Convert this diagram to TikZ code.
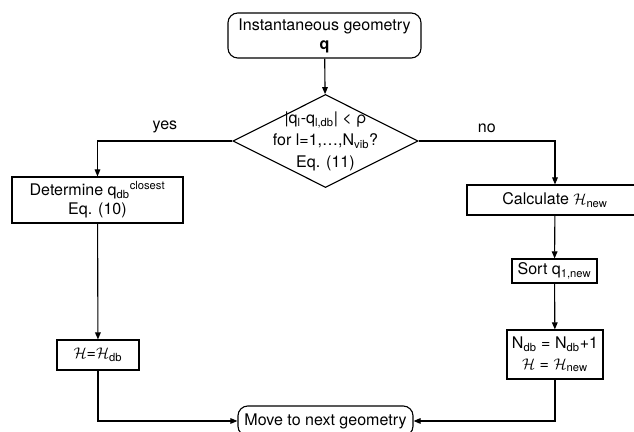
\documentclass[tikz,border=0pt]{standalone}
\usepackage{fontspec}
\setmainfont{TeX Gyre Heros}
\usepackage{amsmath}
\usetikzlibrary{shapes.geometric,arrows.meta}

\begin{document}
\begin{tikzpicture}[x=0.025cm,y=-0.025cm,
    font=\fontsize{11.4}{13.6}\selectfont,
    box/.style={draw,line width=0.8pt,align=center,inner sep=0pt},
    roundbox/.style={box,rounded corners=7pt},
    decision/.style={draw,line width=0.8pt,diamond,inner sep=0pt},
    arr/.style={line width=0.8pt,-{Triangle[length=5pt,width=4pt]}}]
    % Fix the page size
    \useasboundingbox (0,0) rectangle (634,432);

    % Start
    \node[roundbox,minimum width=4.825cm,minimum height=1.125cm] (start) at (324.5,35.5)
        {Instantaneous geometry\\\textbf{q}};

    % Check against the data base
    \node[decision,minimum width=4.625cm,minimum height=2.325cm] (check) at (325.5,141)
        {\makebox[0pt]{\smash{\raisebox{-3pt}{\begin{tabular}{@{}c@{}}
        |q\textsubscript{l}-q\textsubscript{l,db}| < ρ\\[2.5pt]
        for l=1,\dots,N\textsubscript{vib}?\\[1.5pt]
        Eq. (11)\end{tabular}}}}};

    % yes branch
    \node[box,minimum width=4.275cm,minimum height=1.15cm] (closest) at (97.5,200)
        {Determine q\textsubscript{db}\textsuperscript{closest}\\Eq. (10)};
    \node[box,minimum width=2.05cm,minimum height=0.75cm] (hdb) at (98,355)
        {$\mathcal{H}$=$\mathcal{H}$\textsubscript{db}};

    % no branch
    \node[box,minimum width=4.4cm,minimum height=0.75cm] (calc) at (555,200)
        {Calculate $\mathcal{H}$\textsubscript{new}};
    \node[box,minimum width=2.125cm,minimum height=0.6cm] (sort) at (554.5,271)
        {Sort q\textsubscript{1,new}};
    \node[box,minimum width=2.4cm,minimum height=1.225cm] (grow) at (555,354.5)
        {N\textsubscript{db} = N\textsubscript{db}+1\\[1pt]$\mathcal{H}$ = $\mathcal{H}$\textsubscript{new}};

    % End
    \node[roundbox,minimum width=4.375cm,minimum height=0.75cm] (next) at (325.5,421)
        {Move to next geometry};

    % Connectors
    \draw[arr] (start) -- (check);
    \draw[arr] (check.west) -| (closest) node[pos=0.25,above=2pt] {yes};
    \draw[arr] (check.east) -| (calc) node[pos=0.25,above=2pt] {no};
    \draw[arr] (closest) -- (hdb);
    \draw[arr] (calc) -- (sort);
    \draw[arr] (sort) -- (grow);
    \draw[arr] (hdb) |- (next);
    \draw[arr] (grow) |- (next);
\end{tikzpicture}
\end{document}
